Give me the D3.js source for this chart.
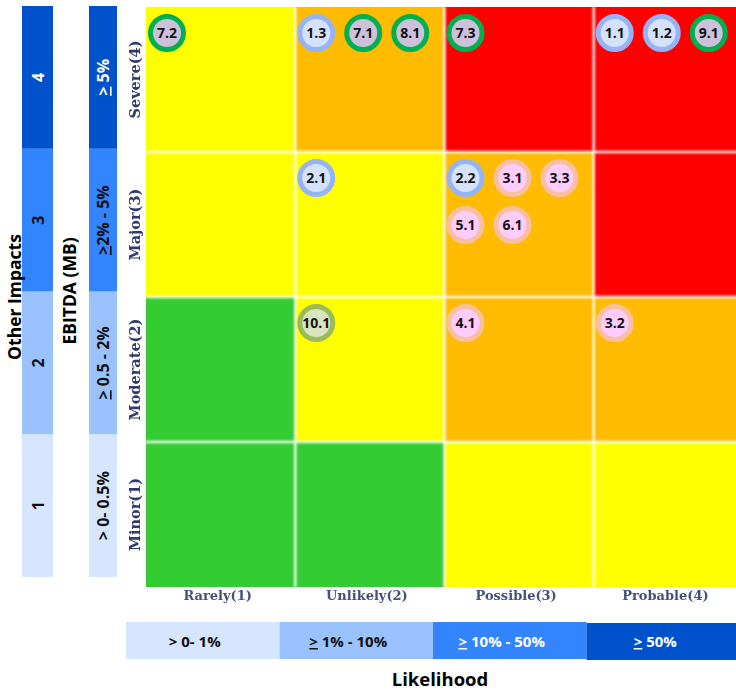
<!DOCTYPE html>
<html>
<head>
<meta charset="utf-8">
<script src="https://cdn.jsdelivr.net/npm/d3@7"></script>
<style>
  body { margin: 0; background: #fff; }
  svg { display: block; font-family: 'Open Sans', sans-serif; }
</style>
</head>
<body>
<svg></svg>
<script>
const width = 736;
const height = 693;

// categories
const likelihood = ['Rarely(1)', 'Unlikely(2)', 'Possible(3)', 'Probable(4)'];
const likelihoodRange = ['> 0- 1%', '1% - 10%', '10% - 50%', '50%'];
const likelihoodGe = [false, true, true, true];
const impact = ['Minor(1)', 'Moderate(2)', 'Major(3)', 'Severe(4)'];
const otherImpacts = ['1', '2', '3', '4'];
const ebitda = ['> 0- 0.5%', ' 0.5 - 2%', '2% - 5%', ' 5%'];
const ebitdaGe = [false, true, true, true];

// heat colours per row (impact) and column (likelihood)
const cellLevel = [
    ['G', 'G', 'Y', 'Y'],   // Minor
    ['G', 'Y', 'O', 'O'],   // Moderate
    ['Y', 'Y', 'O', 'R'],   // Major
    ['Y', 'O', 'R', 'R']    // Severe
];

// risks: id, likelihood column, impact row, slot within the cell, type
const riskIds   = ['7.2', '1.3', '7.1', '8.1', '7.3', '1.1', '1.2', '9.1', '2.1', '2.2', '3.1', '3.3', '5.1', '6.1', '10.1', '4.1', '3.2'];
const riskLike  = [1, 2, 2, 2, 3, 4, 4, 4, 2, 3, 3, 3, 3, 3, 2, 3, 4];
const riskImp   = [4, 4, 4, 4, 4, 4, 4, 4, 3, 3, 3, 3, 3, 3, 2, 2, 2];
const riskSlot  = [0, 0, 1, 2, 0, 0, 1, 2, 0, 0, 1, 2, 3, 4, 0, 0, 0];
const riskType  = ['g', 'b', 'g', 'g', 'g', 'b', 'b', 'g', 'b', 'b', 'p', 'p', 'p', 'p', 'o', 'p', 'p'];

const levelColor = { G: '#33cc33', Y: '#ffff00', O: '#ffbb00', R: '#ff0000' };
const ringColor = { g: '#00b050', b: '#95b3f7', p: '#f8bfa0', o: '#9bbb59' };
const fillColor = { g: '#ccc0da', b: '#d4e1ff', p: '#ffccff', o: '#d7e4bd' };
const bandColors = ['#d6e6ff', '#99c2ff', '#3385ff', '#0052cc'];
const bandText = ['#111', '#111', '#fff', '#fff'];

const svg = d3.select('svg')
    .attr('width', width)
    .attr('height', height);

const defs = svg.append('defs');
defs.append('filter').attr('id', 'soft')
    .append('feGaussianBlur').attr('stdDeviation', 0.7);
defs.append('filter').attr('id', 'glow')
    .append('feGaussianBlur').attr('stdDeviation', 0.8);

const x = d3.scaleBand().domain(likelihood).range([146, 743]);
const y = d3.scaleBand().domain(impact.slice().reverse()).range([7, 587]);

// heat map cells
const cells = [];
impact.forEach((im, r) => likelihood.forEach((lk, c) => cells.push({ im, lk, level: cellLevel[r][c] })));

svg.append('g').selectAll('rect')
    .data(cells).enter()
    .append('rect')
    .attr('x', d => x(d.lk))
    .attr('y', d => y(d.im))
    .attr('width', x.bandwidth())
    .attr('height', y.bandwidth())
    .attr('fill', d => levelColor[d.level]);

// white grid lines
const grid = svg.append('g').attr('filter', 'url(#glow)')
    .attr('stroke', '#fff').attr('stroke-width', 2.5).attr('opacity', 0.9);
grid.selectAll('line.v')
    .data(likelihood.slice(1)).enter()
    .append('line')
    .attr('x1', d => x(d)).attr('x2', d => x(d))
    .attr('y1', y.range()[0]).attr('y2', y.range()[1]);
grid.selectAll('line.h')
    .data(impact.slice(0, 3)).enter()
    .append('line')
    .attr('y1', d => y(d)).attr('y2', d => y(d))
    .attr('x1', x.range()[0]).attr('x2', x.range()[1]);

// axis labels on the matrix
svg.append('g').attr('filter', 'url(#soft)')
    .selectAll('text')
    .data(impact).enter()
    .append('text')
    .attr('transform', d => `translate(140,${y(d) + y.bandwidth() / 2}) rotate(-90)`)
    .attr('text-anchor', 'middle')
    .attr('font-family', 'DejaVu Serif, serif')
    .attr('font-weight', 'bold')
    .attr('font-size', 14.5)
    .attr('fill', '#2e3a6e')
    .text(d => d);

svg.append('g').attr('filter', 'url(#soft)')
    .selectAll('text')
    .data(likelihood).enter()
    .append('text')
    .attr('x', d => x(d) + x.bandwidth() / 2 - 3)
    .attr('y', 600)
    .attr('text-anchor', 'middle')
    .attr('font-family', 'DejaVu Serif, serif')
    .attr('font-weight', 'bold')
    .attr('font-size', 13)
    .attr('fill', '#44507e')
    .text(d => d);

// risk circles
const risks = riskIds.map((id, i) => ({
    id, lk: likelihood[riskLike[i] - 1], im: impact[riskImp[i] - 1], slot: riskSlot[i], type: riskType[i]
}));
const cx = d => x(d.lk) + 21 + (d.slot % 3) * 47;
const cy = d => y(d.im) + 26 + Math.floor(d.slot / 3) * 47;

const bubbles = svg.append('g').selectAll('g')
    .data(risks).enter()
    .append('g')
    .attr('transform', d => `translate(${cx(d)},${cy(d)})`);

bubbles.append('circle')
    .attr('r', 16.5)
    .attr('fill', d => fillColor[d.type])
    .attr('stroke', d => ringColor[d.type])
    .attr('stroke-width', 5);

bubbles.append('text')
    .attr('text-anchor', 'middle')
    .attr('dy', '0.36em')
    .attr('font-weight', 'bold')
    .attr('font-size', 14)
    .attr('fill', '#111')
    .text(d => d.id);

// left bars
const yl = d3.scaleBand().domain(otherImpacts.slice().reverse()).range([6, 577]);

const leftBar = (x0, w, labels, ge, cx0) => {
    const g = svg.append('g');
    g.selectAll('rect')
        .data(labels).enter()
        .append('rect')
        .attr('x', x0)
        .attr('y', (d, i) => yl(otherImpacts[i]))
        .attr('width', w)
        .attr('height', yl.bandwidth())
        .attr('fill', (d, i) => bandColors[i]);
    const t = g.selectAll('text')
        .data(labels).enter()
        .append('text')
        .attr('transform', (d, i) => `translate(${cx0},${yl(otherImpacts[i]) + yl.bandwidth() / 2}) rotate(-90)`)
        .attr('text-anchor', 'middle')
        .attr('font-weight', 'bold')
        .attr('font-size', 16)
        .attr('fill', (d, i) => i === 3 ? '#fff' : '#111');
    t.filter((d, i) => ge[i]).append('tspan')
        .attr('text-decoration', 'underline')
        .text('>');
    t.append('tspan').text(d => d);
};

leftBar(22, 31, otherImpacts, [false, false, false, false], 44);
leftBar(89, 28, ebitda, ebitdaGe, 109);

svg.append('text')
    .attr('transform', 'translate(21,297) rotate(-90)')
    .attr('text-anchor', 'middle')
    .attr('font-weight', 'bold')
    .attr('font-size', 17.5)
    .text('Other Impacts');

svg.append('text')
    .attr('transform', 'translate(76,291) rotate(-90)')
    .attr('text-anchor', 'middle')
    .attr('font-weight', 'bold')
    .attr('font-size', 17.5)
    .text('EBITDA (MB)');

// likelihood strip
const xb = d3.scaleBand().domain(likelihoodRange).range([126, 740]);
const strip = svg.append('g');
strip.selectAll('rect')
    .data(likelihoodRange).enter()
    .append('rect')
    .attr('x', d => xb(d))
    .attr('y', (d, i) => i === 3 ? 623 : 622)
    .attr('width', xb.bandwidth())
    .attr('height', 37)
    .attr('fill', (d, i) => bandColors[i]);
const st = strip.selectAll('text')
    .data(likelihoodRange).enter()
    .append('text')
    .attr('x', d => xb(d) + xb.bandwidth() / 2 - 8)
    .attr('y', 647)
    .attr('text-anchor', 'middle')
    .attr('font-weight', 'bold')
    .attr('font-size', 15)
    .attr('fill', (d, i) => bandText[i]);
st.filter((d, i) => likelihoodGe[i]).append('tspan')
    .attr('text-decoration', 'underline')
    .text('>');
st.append('tspan').text((d, i) => likelihoodGe[i] ? ' ' + d : d);

svg.append('text')
    .attr('x', 440)
    .attr('y', 686)
    .attr('text-anchor', 'middle')
    .attr('font-weight', 'bold')
    .attr('font-size', 18.5)
    .text('Likelihood');
</script>
</body>
</html>
